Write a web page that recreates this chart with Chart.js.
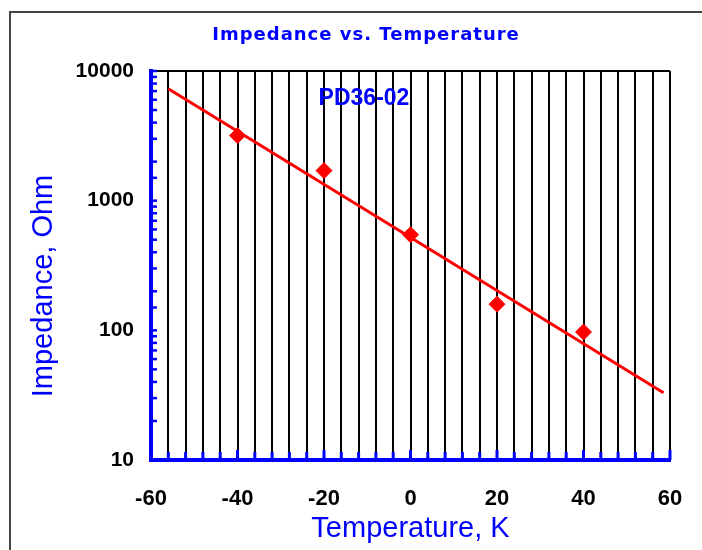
<!DOCTYPE html>
<html><head><meta charset="utf-8">
<script src="https://cdn.jsdelivr.net/npm/chart.js@4.4.1/dist/chart.umd.min.js"></script>
<style>html,body{margin:0;padding:0;background:#fff;}#wrap{width:702px;height:550px;position:relative;}</style>
</head><body><div id="wrap"><canvas id="c"></canvas></div>
<script>
const chartTitle = 'Impedance vs. Temperature';
const seriesLabel = 'PD36-02';
const xAxisTitle = 'Temperature, K';
const yAxisTitle = 'Impedance, Ohm';
const temperatures = [-40, -20, 0, 20, 40];
const impedances = [3175, 1705, 546, 159, 97];
const trendTemperatures = [-56, 58.5];
const trendImpedances = [7300, 33];
const xTickLabels = [-60, -40, -20, 0, 20, 40, 60];
const yTickLabels = [10, 100, 1000, 10000];

const BLUE = '#0000ff', RED = '#ff0000';

const decor = {
  id: 'decor',
  beforeDraw(chart) {
    const ctx = chart.ctx;
    ctx.save();
    ctx.strokeStyle = '#444';
    ctx.lineWidth = 2;
    ctx.strokeRect(10, 12, 800, 700);
    ctx.restore();
  },
  afterDatasetsDraw(chart) {
    const {ctx, chartArea: a, scales: {x, y}} = chart;
    ctx.save();
    ctx.strokeStyle = BLUE;
    ctx.lineCap = 'butt';
    ctx.lineWidth = 3;
    x.ticks.forEach(t => {
      const px = x.getPixelForValue(t.value);
      const len = xTickLabels.includes(t.value) ? 10 : 8;
      ctx.beginPath(); ctx.moveTo(px, a.bottom); ctx.lineTo(px, a.bottom - len); ctx.stroke();
    });
    ctx.lineWidth = 2.5;
    y.ticks.forEach(t => {
      const py = y.getPixelForValue(t.value);
      ctx.beginPath(); ctx.moveTo(a.left, py); ctx.lineTo(a.left + 6, py); ctx.stroke();
    });
    ctx.restore();
  },
  afterDraw(chart) {
    const {ctx} = chart;
    ctx.save();
    ctx.fillStyle = BLUE;
    ctx.textAlign = 'center';
    ctx.textBaseline = 'alphabetic';
    ctx.font = 'bold 18px "DejaVu Sans"';
    try { ctx.letterSpacing = '1px'; } catch (e) {}
    ctx.fillText(chartTitle, 366, 40);
    try { ctx.letterSpacing = '0px'; } catch (e) {}
    ctx.font = 'bold 23px "Liberation Sans"';
    ctx.fillText(seriesLabel, 364, 105);
    ctx.font = '29px "Liberation Sans"';
    ctx.translate(52, 286);
    ctx.rotate(-Math.PI / 2);
    ctx.fillText(yAxisTitle, 0, 0);
    ctx.restore();
  }
};

new Chart(document.getElementById('c'), {
  type: 'scatter',
  data: {
    datasets: [
      {
        label: seriesLabel,
        data: temperatures.map((t, i) => ({x: t, y: impedances[i]})),
        pointStyle: 'rectRot',
        pointRadius: 8,
        backgroundColor: RED,
        borderColor: RED,
        borderWidth: 1,
        showLine: false,
        order: 1
      },
      {
        label: 'Trend',
        data: trendTemperatures.map((t, i) => ({x: t, y: trendImpedances[i]})),
        showLine: true,
        borderColor: RED,
        borderWidth: 3,
        pointRadius: 0,
        fill: false,
        order: 2
      }
    ]
  },
  options: {
    responsive: true,
    maintainAspectRatio: false,
    animation: false,
    events: [],
    layout: {padding: {top: 71, right: 32, bottom: 0, left: 0}},
    plugins: {legend: {display: false}, tooltip: {enabled: false}, title: {display: false}},
    scales: {
      x: {
        type: 'linear',
        min: xTickLabels[0],
        max: xTickLabels[xTickLabels.length - 1],
        afterFit(s) { s.height = 90; s.paddingRight = 0; s.paddingLeft = 0; },
        grid: {color: '#000', lineWidth: 2, drawTicks: false},
        border: {display: true, color: BLUE, width: 4},
        ticks: {
          stepSize: 4, maxTicksLimit: 100, autoSkip: false, maxRotation: 0, padding: 26,
          color: '#000', font: {family: 'Liberation Sans', size: 22, weight: 'bold'},
          callback: v => xTickLabels.includes(v) ? String(v) : ''
        },
        title: {display: true, text: xAxisTitle, color: BLUE, font: {family: 'Liberation Sans', size: 29}, padding: {top: 0, bottom: 4}}
      },
      y: {
        type: 'logarithmic',
        min: yTickLabels[0],
        max: yTickLabels[yTickLabels.length - 1],
        afterFit(s) { s.width = 151; s.paddingTop = 0; s.paddingBottom = 0; },
        grid: {
          drawTicks: false, lineWidth: 2,
          color: c => (c.tick && c.tick.value === yTickLabels[yTickLabels.length - 1]) ? '#000' : 'rgba(0,0,0,0)'
        },
        border: {display: true, color: BLUE, width: 4},
        ticks: {
          autoSkip: false, padding: 17,
          color: '#000', font: {family: 'Liberation Sans', size: 21, weight: 'bold'},
          callback: v => yTickLabels.includes(v) ? String(v) : ''
        }
      }
    }
  },
  plugins: [decor]
});
</script></body></html>
